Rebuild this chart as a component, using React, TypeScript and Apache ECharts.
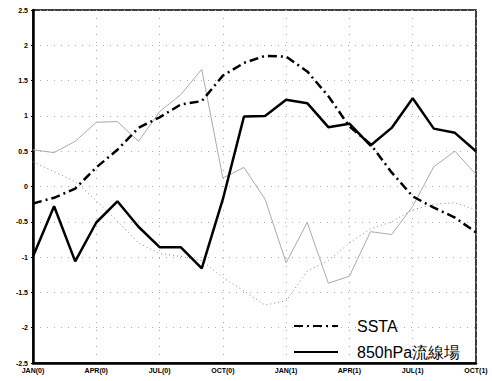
import React, { useEffect, useRef } from "react";
import * as echarts from "echarts";

const months = [
  "JAN(0)", "FEB(0)", "MAR(0)", "APR(0)", "MAY(0)", "JUN(0)", "JUL(0)", "AUG(0)", "SEP(0)", "OCT(0)", "NOV(0)", "DEC(0)",
  "JAN(1)", "FEB(1)", "MAR(1)", "APR(1)", "MAY(1)", "JUN(1)", "JUL(1)", "AUG(1)", "SEP(1)", "OCT(1)",
];

const ssta = [-0.24, -0.16, -0.03, 0.27, 0.52, 0.83, 0.98, 1.16, 1.21, 1.57, 1.75, 1.85, 1.84, 1.63, 1.28, 0.85, 0.6, 0.2, -0.14, -0.3, -0.44, -0.65];
const flow850 = [-0.99, -0.28, -1.06, -0.51, -0.21, -0.57, -0.86, -0.86, -1.16, -0.18, 0.99, 1.0, 1.23, 1.18, 0.84, 0.89, 0.58, 0.83, 1.25, 0.82, 0.76, 0.5];
const grayLine = [0.52, 0.48, 0.64, 0.91, 0.92, 0.64, 1.06, 1.3, 1.66, 0.12, 0.27, -0.18, -1.08, -0.51, -1.37, -1.27, -0.64, -0.68, -0.28, 0.28, 0.5, 0.17];
const dottedLine = [0.35, 0.21, 0.07, -0.2, -0.49, -0.8, -0.95, -0.99, -1.05, -1.29, -1.48, -1.68, -1.62, -1.2, -1.05, -0.8, -0.6, -0.5, -0.33, -0.25, -0.23, -0.33];

const legendNames = ["SSTA", "850hPa流線場"];

export default function App() {
  const ref = useRef<HTMLDivElement>(null);
  useEffect(() => {
    if (!ref.current) return;
    const chart = echarts.init(ref.current, null, { renderer: "svg" });
    const font = "'Liberation Sans', Arial, sans-serif";
    chart.setOption({
      animation: false,
      backgroundColor: "#fff",
      grid: {
        left: 33, right: 16, top: 10, bottom: 18,
        show: true, borderColor: "#000", borderWidth: 1.5, backgroundColor: "transparent",
      },
      legend: {
        data: legendNames,
        orient: "vertical",
        left: 288, top: 313,
        itemWidth: 44, itemHeight: 14, itemGap: 10,
        itemStyle: { opacity: 0 },
        textStyle: { fontFamily: font, fontSize: 16, color: "#000", padding: [0, 0, 0, 14] },
      },
      xAxis: {
        type: "category",
        data: months,
        boundaryGap: false,
        axisLine: { onZero: false, lineStyle: { color: "#000", width: 2.5 } },
        axisTick: { show: false },
        axisLabel: { interval: 2, fontSize: 7, fontFamily: font, fontWeight: "bold", color: "#000", margin: 4 },
        splitLine: { show: true, interval: 2, lineStyle: { color: "#aaa", type: [1, 7], width: 1 } },
      },
      yAxis: {
        type: "value",
        min: -2.5, max: 2.5, interval: 0.5,
        axisLine: { show: true, lineStyle: { color: "#000", width: 2.5 } },
        axisTick: { show: true, length: 2, lineStyle: { color: "#000" } },
        axisLabel: { fontSize: 7, fontFamily: font, fontWeight: "bold", color: "#000", margin: 5 },
        splitLine: { show: true, lineStyle: { color: "#aaa", type: [1, 6], width: 1 } },
      },
      series: [
        {
          name: "gray", type: "line", data: grayLine, symbol: "none",
          lineStyle: { color: "#aaa", width: 1 }, z: 1,
        },
        {
          name: "dotted", type: "line", data: dottedLine, symbol: "none",
          lineStyle: { color: "#888", width: 1, type: [1, 3] }, z: 1,
        },
        {
          name: "SSTA", type: "line", data: ssta, symbol: "none",
          lineStyle: { color: "#000", width: 2.5, type: [9, 4, 2, 4] }, itemStyle: { color: "#000" }, z: 3,
        },
        {
          name: "850hPa流線場", type: "line", data: flow850, symbol: "none",
          lineStyle: { color: "#000", width: 2.5 }, itemStyle: { color: "#000" }, z: 3,
        },
      ],
    });
    return () => chart.dispose();
  }, []);
  return <div ref={ref} style={{ position: "fixed", left: 0, top: 0, width: 492, height: 381 }} />;
}
